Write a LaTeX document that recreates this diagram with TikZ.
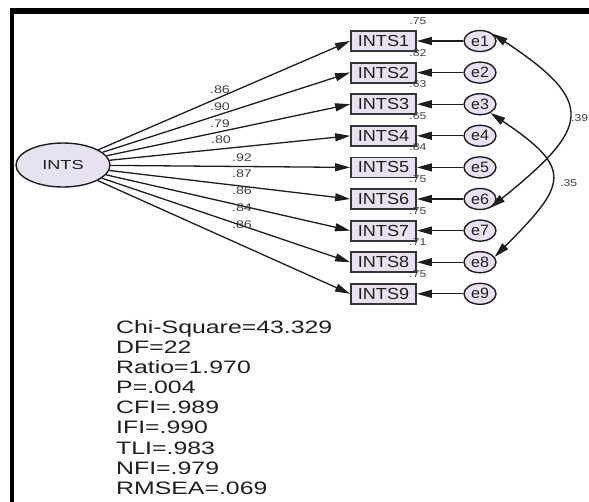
\documentclass[tikz,border=0pt]{standalone}
\usepackage{fontspec}
\setmainfont{Liberation Sans}
\usetikzlibrary{shapes.geometric,arrows.meta}
\newcommand{\hs}[2]{\scalebox{#1}[1]{#2}}
\definecolor{lav}{HTML}{E9E1F2}
\definecolor{lavl}{HTML}{E3E4F0}
\definecolor{ink}{HTML}{1E1E1E}
\begin{document}
\begin{tikzpicture}[x=1pt,y=-1pt,
  obs/.style={draw=ink!90, line width=1.8pt, fill=lav, minimum width=65pt, minimum height=20pt, inner sep=0pt, text=ink, font=\fontsize{16}{16}\selectfont},
  err/.style={ellipse, draw=ink, line width=1.4pt, fill=lav, minimum width=32pt, minimum height=21pt, inner sep=0pt, text=ink, font=\fontsize{15}{15}\selectfont},
  lat/.style={ellipse, draw=ink, line width=1.4pt, left color=lavl, right color=lav, minimum width=94pt, minimum height=44pt, inner sep=0pt, text=ink, font=\fontsize{13}{13}\selectfont},
  load/.style={draw=ink, line width=1.3pt, -{Triangle[length=15pt,width=8pt]}},
  cov/.style={draw=ink, line width=1.4pt, {Triangle[length=15pt,width=8pt]}-{Triangle[length=15pt,width=8pt]}},
  small/.style={font=\fontsize{10}{10}\selectfont, text=ink!85, inner sep=0pt},
  lbl/.style={font=\fontsize{11}{11}\selectfont, text=ink!85, inner sep=0pt},
  stat/.style={font=\fontsize{18}{18}\selectfont, text=ink, inner sep=0pt, anchor=base west}
]
\useasboundingbox (0,0) rectangle (589,501);
% frame
\draw[line width=6pt] (10,11) -- (600,11);
\draw[line width=4.5pt] (12,8) -- (12,510);

\node[lat] (L) at (63,165) {\hs{1.4}{INTS}};

\foreach \i/\y/\v in {1/41/.75, 2/72.6/.82, 3/104.2/.63, 4/135.8/.65, 5/167.4/.84, 6/199/.75, 7/230.6/.75, 8/262.2/.71, 9/293.8/.75} {
  \node[obs] (b\i) at (383.5,\y) {\hs{1.13}{INTS\i}};
  \node[err] (e\i) at (480,\y) {\hs{1.07}{e\i}};
  \draw[load] (L) -- (b\i.west);
  \draw[load] (e\i) -- (b\i);
  \path (b\i.north east) ++(1,-9) node[small] (v\i) {\hs{1.22}{\v}};
}

% loadings
\node[lbl] (l1) at (220,90)  {\hs{1.3}{.86}};
\node[lbl] (l2) at (220,107) {\hs{1.3}{.90}};
\node[lbl] (l3) at (220,124) {\hs{1.3}{.79}};
\node[lbl] (l4) at (221,140) {\hs{1.3}{.80}};
\node[lbl] (l5) at (242,158) {\hs{1.3}{.92}};
\node[lbl] (l6) at (242,174) {\hs{1.3}{.87}};
\node[lbl] (l7) at (242,191) {\hs{1.3}{.86}};
\node[lbl] (l8) at (242,208) {\hs{1.3}{.84}};
\node[lbl] (l9) at (242,225) {\hs{1.3}{.86}};

% covariances
\draw[cov] (e1.30) .. controls (598,103) and (589,128) .. (e6.-40);
\draw[cov] (e3.-40) .. controls (574,169) and (567,184) .. (e8.20);
\node[small, anchor=west] (c1) at (571,118) {\hs{1.22}{.39}};
\node[small, anchor=west] (c2) at (560,183) {\hs{1.22}{.35}};

% fit statistics
\node[stat] (s0) at (116,333) {\hs{1.38}{Chi-Square=43.329}};
\node[stat] (s1) at (116,353) {\hs{1.38}{DF=22}};
\node[stat] (s2) at (116,373) {\hs{1.38}{Ratio=1.970}};
\node[stat] (s3) at (116,393.5) {\hs{1.38}{P=.004}};
\node[stat] (s4) at (116,413.5) {\hs{1.38}{CFI=.989}};
\node[stat] (s5) at (116,433.5) {\hs{1.38}{IFI=.990}};
\node[stat] (s6) at (116,454) {\hs{1.38}{TLI=.983}};
\node[stat] (s7) at (116,474) {\hs{1.38}{NFI=.979}};
\node[stat] (s8) at (116,494) {\hs{1.38}{RMSEA=.069}};
\end{tikzpicture}
\end{document}
